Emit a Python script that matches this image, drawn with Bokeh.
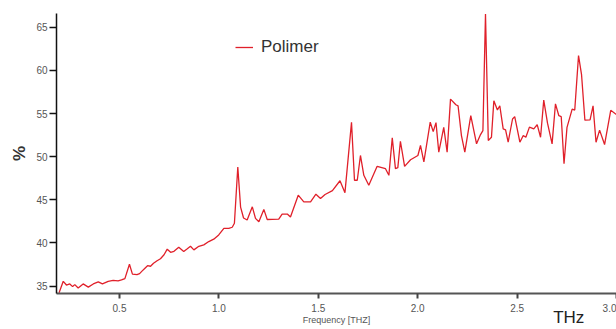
from bokeh.plotting import figure
from bokeh.models import (Range1d, FixedTicker, NumeralTickFormatter, Legend, LegendItem,
                          LinearAxis)
from bokeh.embed import file_html
from bokeh.resources import INLINE

# ---- data ----
freq = [0.196, 0.217, 0.233, 0.250, 0.264, 0.275, 0.292, 0.317, 0.343, 0.368,
        0.393, 0.414, 0.443, 0.468, 0.493, 0.510, 0.527, 0.550, 0.565, 0.588,
        0.601, 0.613, 0.628, 0.641, 0.656, 0.671, 0.689, 0.706, 0.724, 0.740,
        0.757, 0.774, 0.798, 0.823, 0.841, 0.857, 0.874, 0.899, 0.924, 0.949,
        0.974, 0.999, 1.025, 1.050, 1.067, 1.078, 1.095, 1.109, 1.124, 1.142,
        1.168, 1.184, 1.201, 1.226, 1.243, 1.268, 1.301, 1.318, 1.344, 1.360,
        1.399, 1.427, 1.461, 1.488, 1.511, 1.534, 1.571, 1.609, 1.634, 1.667,
        1.682, 1.696, 1.712, 1.729, 1.754, 1.796, 1.838, 1.855, 1.872, 1.888,
        1.900, 1.913, 1.934, 1.964, 2.001, 2.014, 2.031, 2.063, 2.078, 2.092,
        2.106, 2.131, 2.148, 2.165, 2.192, 2.203, 2.220, 2.237, 2.267, 2.296,
        2.316, 2.328, 2.341, 2.355, 2.371, 2.383, 2.401, 2.413, 2.430, 2.442,
        2.455, 2.477, 2.488, 2.514, 2.531, 2.544, 2.562, 2.584, 2.601, 2.618,
        2.634, 2.653, 2.676, 2.693, 2.710, 2.722, 2.736, 2.751, 2.777, 2.790,
        2.809, 2.824, 2.841, 2.867, 2.882, 2.897, 2.915, 2.940, 2.971, 3.000]
polimer = [34.22, 35.55, 35.12, 35.25, 34.94, 35.17, 34.77, 35.25, 34.88, 35.25,
           35.48, 35.25, 35.55, 35.67, 35.60, 35.71, 35.86, 37.53, 36.38, 36.32,
           36.44, 36.73, 37.07, 37.36, 37.30, 37.65, 37.94, 38.17, 38.63, 39.28,
           38.92, 39.03, 39.51, 39.01, 39.32, 39.61, 39.20, 39.61, 39.78, 40.16,
           40.44, 40.93, 41.70, 41.70, 41.82, 42.28, 48.80, 44.16, 42.89, 42.66,
           44.19, 42.85, 42.46, 43.89, 42.72, 42.74, 42.77, 43.35, 43.35, 43.00,
           45.54, 44.77, 44.77, 45.65, 45.16, 45.62, 46.06, 47.21, 45.83, 53.98,
           47.27, 47.27, 50.14, 47.84, 46.69, 48.88, 48.61, 47.84, 52.18, 48.61,
           48.73, 51.79, 48.88, 49.65, 50.14, 51.30, 49.40, 54.00, 52.91, 53.95,
           50.52, 53.40, 50.52, 56.67, 56.02, 55.90, 52.45, 50.52, 54.75, 51.49,
           52.56, 53.02, 66.53, 51.87, 52.25, 56.48, 55.41, 55.90, 53.22, 53.10,
           51.68, 54.37, 54.64, 51.68, 52.45, 52.25, 53.43, 53.22, 53.71, 52.25,
           56.56, 53.89, 51.49, 56.13, 54.75, 54.64, 49.19, 53.40, 55.52, 55.41,
           61.72, 59.55, 54.23, 54.26, 55.90, 51.68, 53.08, 51.41, 55.38, 54.87]
x_ticks = [0.5, 1.0, 1.5, 2.0, 2.5, 3.0]
y_ticks = [35, 40, 45, 50, 55, 60, 65]
series_name = "Polimer"
x_title = "Frequency [THZ]"
y_title = "%"
unit_text = "THz"
UNIT_POS = 2.76  # horizontal placement of the unit caption (style)

FONT = "Liberation Sans"
RED = "#e0202a"

p = figure(width=616, height=329, output_backend="svg", toolbar_location=None,
           x_range=Range1d(0.183, 3.0), y_range=Range1d(34.14, 66.6),
           min_border_left=56, min_border_right=0, min_border_top=13, min_border_bottom=35)
p.outline_line_color = None
p.grid.visible = False
p.background_fill_color = "white"
p.border_fill_color = "white"

r = p.line(freq, polimer, line_color=RED, line_width=1.3)

# y axis
ya = p.yaxis[0]
ya.ticker = FixedTicker(ticks=y_ticks)
ya.axis_line_color = "#111111"
ya.axis_line_width = 1.5
ya.major_tick_line_color = "#111111"
ya.major_tick_line_width = 1.5
ya.major_tick_out = 7
ya.major_tick_in = 0
ya.minor_tick_line_color = None
ya.major_label_text_font = FONT
ya.major_label_text_font_size = "10px"
ya.major_label_text_color = "#555555"
ya.major_label_standoff = 2
ya.axis_label = y_title
ya.axis_label_text_font = FONT
ya.axis_label_text_font_size = "17px"
ya.axis_label_text_font_style = "bold"
ya.axis_label_text_color = "#333333"
ya.axis_label_standoff = 4

# x axis
xa = p.xaxis[0]
xa.ticker = FixedTicker(ticks=x_ticks)
xa.formatter = NumeralTickFormatter(format="0.0")
xa.axis_line_color = "#555555"
xa.axis_line_width = 2
xa.major_tick_line_color = "#444444"
xa.major_tick_line_width = 2
xa.major_tick_out = 5
xa.major_tick_in = 0
xa.minor_tick_line_color = None
xa.major_label_text_font = FONT
xa.major_label_text_font_size = "10px"
xa.major_label_text_color = "#555555"
xa.major_label_standoff = 5
xa.axis_label = x_title
xa.axis_label_text_font = FONT
xa.axis_label_text_font_size = "9px"
xa.axis_label_text_font_style = "normal"
xa.axis_label_text_color = "#555555"
xa.axis_label_standoff = 0

# unit caption below the plot, right side: a label-only second axis
ua = LinearAxis(ticker=FixedTicker(ticks=[UNIT_POS]),
                major_label_overrides={UNIT_POS: unit_text},
                axis_line_color=None, major_tick_line_color=None,
                minor_tick_line_color=None, major_tick_out=0, major_tick_in=0,
                major_label_text_font=FONT, major_label_text_font_size="17px",
                major_label_text_color="#222222", major_label_standoff=-20)
p.add_layout(ua, "below")

legend = Legend(items=[LegendItem(label=series_name, renderers=[r])],
                location=(179, 236), orientation="vertical",
                label_text_font=FONT, label_text_font_size="17px",
                label_text_color="#333333", glyph_width=18, glyph_height=20,
                label_standoff=8, padding=0, spacing=0, margin=0,
                border_line_alpha=0, background_fill_alpha=0)
p.add_layout(legend)

open("out.html", "w").write(file_html(p, INLINE))
